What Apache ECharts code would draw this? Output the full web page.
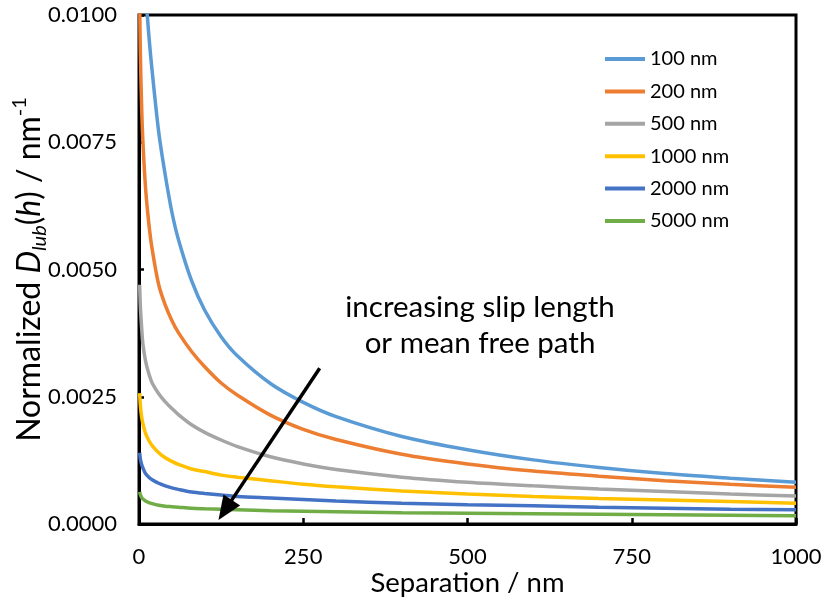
<!DOCTYPE html>
<html>
<head>
<meta charset="utf-8">
<script src="https://cdn.jsdelivr.net/npm/echarts@6/dist/echarts.min.js"></script>
<style>html,body{margin:0;padding:0;background:#fff}#c{width:821px;height:602px}</style>
</head>
<body>
<div id="c"></div>
<script>
const separation = [1, 2, 4, 6, 10, 15, 20, 30, 40, 50, 60, 80, 100, 125, 150, 200, 250, 300, 400, 500, 600, 700, 800, 900, 1000];
const seriesNames = ['100 nm', '200 nm', '500 nm', '1000 nm', '2000 nm', '5000 nm'];
const d100  = [0.0180, 0.0160, 0.0135, 0.0120, 0.0105, 0.0096, 0.0089, 0.0077, 0.00685, 0.00613, 0.00559, 0.00478, 0.0042, 0.00368, 0.0033, 0.00276, 0.00239, 0.00211, 0.00172, 0.00146, 0.00126, 0.00111, 0.00099, 0.0009, 0.00082];
const d200  = [0.0103, 0.0093, 0.0082, 0.0075, 0.0066, 0.0059, 0.0054, 0.0047, 0.0043, 0.0040, 0.00376, 0.00339, 0.00309, 0.00277, 0.00253, 0.00214, 0.00186, 0.00166, 0.00137, 0.00118, 0.00104, 0.00094, 0.00085, 0.00078, 0.00072];
const d500  = [0.0047, 0.0043, 0.00386, 0.00353, 0.0032, 0.00295, 0.00277, 0.00256, 0.0024, 0.00227, 0.00215, 0.00195, 0.0018, 0.00165, 0.00152, 0.00132, 0.00118, 0.00107, 0.00092, 0.00082, 0.00075, 0.00069, 0.00064, 0.00059, 0.00055];
const d1000 = [0.00257, 0.00234, 0.0021, 0.00197, 0.00178, 0.00164, 0.00154, 0.0014, 0.0013, 0.00123, 0.00117, 0.00108, 0.00103, 0.00096, 0.00092, 0.00085, 0.00078, 0.00073, 0.00065, 0.00059, 0.00054, 0.0005, 0.00047, 0.00044, 0.00041];
const d2000 = [0.0014, 0.00128, 0.00117, 0.0011, 0.00099, 0.00092, 0.00087, 0.0008, 0.00075, 0.00071, 0.00068, 0.00063, 0.0006, 0.00057, 0.00054, 0.00051, 0.00048, 0.00045, 0.00041, 0.00038, 0.00036, 0.00033, 0.00031, 0.00029, 0.00028];
const d5000 = [0.00063, 0.00058, 0.00052, 0.00049, 0.00045, 0.00042, 0.0004, 0.00037, 0.00035, 0.00034, 0.00033, 0.00031, 0.0003, 0.00029, 0.00028, 0.00026, 0.00025, 0.00024, 0.00022, 0.00021, 0.0002, 0.00019, 0.00018, 0.00017, 0.00016];
const xTicks = [0, 250, 500, 750, 1000];
const yTicks = [0, 0.0025, 0.005, 0.0075, 0.01];
const arrowFrom = [275, 0.00306];
const arrowTo = [121, 0.00008];
const annotation = 'increasing slip length\nor mean free path';

const colors = ['#5B9BD5', '#ED7D31', '#A5A5A5', '#FFC000', '#4472C4', '#70AD47'];
const allData = [d100, d200, d500, d1000, d2000, d5000];
const FONT = 'Lato';

const chart = echarts.init(document.getElementById('c'));
const series = allData.map((arr, i) => ({
  name: seriesNames[i],
  type: 'line',
  data: separation.map((h, j) => [h, arr[j]]),
  symbol: 'none',
  smooth: 0.3,
  clip: true,
  lineStyle: { color: colors[i], width: 3.5 },
  itemStyle: { color: colors[i] },
  z: 10 - i,
  animation: false
}));

chart.setOption({
  animation: false,
  backgroundColor: '#fff',
  color: colors,
  grid: { left: 139, right: 25, top: 15, bottom: 78, outerBoundsMode: 'none', containLabel: false, show: true, borderColor: '#000', borderWidth: 3, backgroundColor: 'transparent' },
  legend: {
    orient: 'vertical',
    left: 600,
    top: 44,
    itemWidth: 40,
    itemHeight: 20,
    itemGap: 12.4,
    icon: 'path://M0,8 L40,8 L40,12 L0,12 Z',
    textStyle: { fontFamily: FONT, fontSize: 20, color: '#000', lineHeight: 20 },
    data: seriesNames
  },
  xAxis: {
    type: 'value', min: 0, max: 1000, interval: 250,
    name: 'Separation / nm', nameLocation: 'middle', nameGap: 45, nameMoveOverlap: false,
    nameTextStyle: { fontFamily: FONT, fontSize: 27.5, color: '#000' },
    axisLine: { lineStyle: { color: '#000', width: 3 } },
    axisTick: { inside: true, length: 6, lineStyle: { color: '#000', width: 2.5 } },
    axisLabel: { fontFamily: FONT, fontSize: 22, color: '#000', margin: 22, formatter: v => String(v) },
    splitLine: { show: false }
  },
  yAxis: {
    type: 'value', min: 0, max: 0.01, interval: 0.0025,
    name: '{n|Normalized }{i|D}{sub|lub}{n|(}{i|h}{n|) / nm}{sup|-1}',
    nameLocation: 'middle', nameGap: 89, nameRotate: 90, nameMoveOverlap: false,
    nameTextStyle: {
      fontFamily: FONT, fontSize: 32, color: '#000',
      rich: {
        n: { fontFamily: FONT, fontSize: 32, color: '#000', lineHeight: 40 },
        i: { fontFamily: FONT, fontSize: 32, color: '#000', fontStyle: 'italic', lineHeight: 40 },
        sub: { fontFamily: FONT, fontSize: 20, color: '#000', fontStyle: 'italic', verticalAlign: 'bottom', lineHeight: 40 },
        sup: { fontFamily: FONT, fontSize: 20, color: '#000', verticalAlign: 'top', lineHeight: 40 }
      }
    },
    axisLine: { show: true, lineStyle: { color: '#000', width: 3 } },
    axisTick: { show: true, inside: true, length: 5, lineStyle: { color: '#000', width: 2.5 } },
    axisLabel: { fontFamily: FONT, fontSize: 22, color: '#000', margin: 22, formatter: v => v.toFixed(4) },
    splitLine: { show: false }
  },
  series: series
});

// annotation arrow, positioned through the chart's own coordinate system
const p1 = chart.convertToPixel({ xAxisIndex: 0, yAxisIndex: 0 }, arrowFrom);
const p2 = chart.convertToPixel({ xAxisIndex: 0, yAxisIndex: 0 }, arrowTo);
const dx = p2[0] - p1[0], dy = p2[1] - p1[1];
const len = Math.sqrt(dx * dx + dy * dy);
const ux = dx / len, uy = dy / len;
const headLen = 24, headHalf = 10;
const bx = p2[0] - ux * headLen, by = p2[1] - uy * headLen;
chart.setOption({
  graphic: [
    {
      type: 'line', z: 100,
      shape: { x1: p1[0], y1: p1[1], x2: bx + ux * 2, y2: by + uy * 2 },
      style: { stroke: '#000', lineWidth: 3.5 }
    },
    {
      type: 'polygon', z: 100,
      shape: { points: [[p2[0], p2[1]], [bx - uy * headHalf, by + ux * headHalf], [bx + uy * headHalf, by - ux * headHalf]] },
      style: { fill: '#000' }
    },
    {
      type: 'text', z: 100,
      x: 480, y: 289,
      style: { text: annotation, fontFamily: FONT, fontSize: 29.5, fill: '#000', align: 'center', lineHeight: 36 }
    }
  ]
});
</script>
</body>
</html>
